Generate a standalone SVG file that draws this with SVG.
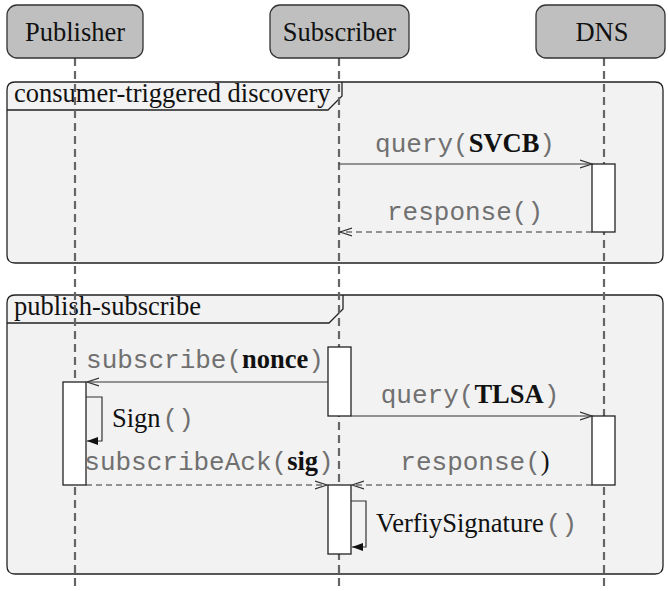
<svg xmlns="http://www.w3.org/2000/svg" width="668" height="591" viewBox="0 0 668 591">
<style>
.part{fill:#bfbfbf;stroke:#333;stroke-width:1.3}
.name{font-family:"Liberation Serif",serif;font-size:26.5px;fill:#111;text-anchor:middle}
.frame{fill:#f2f2f2;stroke:#222;stroke-width:1.3}
.tab{fill:none;stroke:#222;stroke-width:1.3}
.flabel{font-family:"Liberation Serif",serif;font-size:26.5px;fill:#111}
.life{stroke:#666;stroke-width:2.2;stroke-dasharray:8,5;fill:none}
.act{fill:#fff;stroke:#222;stroke-width:1.3}
.msg{stroke:#333;stroke-width:1.2;fill:none}
.ret{stroke:#333;stroke-width:1.2;fill:none;stroke-dasharray:6,4}
.self{stroke:#333;stroke-width:1.2;fill:none}
.mono{font-family:"Liberation Mono",monospace;font-size:26px;fill:#707070}
.bold{font-family:"Liberation Serif",serif;font-weight:bold;font-size:26.5px;fill:#111}
.ser{font-family:"Liberation Serif",serif;font-size:26.5px;fill:#111}
.lbl{text-anchor:middle}
</style>
<defs>
<marker id="open" markerWidth="14" markerHeight="10" refX="12" refY="5" orient="auto" markerUnits="userSpaceOnUse">
<path d="M0,1 L12,5 L0,9" fill="none" stroke="#333" stroke-width="1.2"/>
</marker>
<marker id="fill" markerWidth="12" markerHeight="10" refX="11" refY="5" orient="auto" markerUnits="userSpaceOnUse">
<path d="M0,1 L11,5 L0,9 Z" fill="#111"/>
</marker>
</defs>

<g id="frame-discovery">
<path class="frame" d="M15,82 H655 Q663,82 663,90 V255 Q663,263 655,263 H15 Q7,263 7,255 V90 Q7,82 15,82 Z"/>
<path class="tab" d="M7,110 H328 L342,96 V82"/>
<text class="flabel" x="14" y="102">consumer-triggered discovery</text>
</g>
<g id="frame-pubsub">
<path class="frame" d="M15,295 H655 Q663,295 663,303 V566 Q663,574 655,574 H15 Q7,574 7,566 V303 Q7,295 15,295 Z"/>
<path class="tab" d="M7,323 H329 L343,309 V295"/>
<text class="flabel" x="14" y="315">publish-subscribe</text>
</g>

<g id="lifelines">
<line class="life" x1="75" y1="58" x2="75" y2="591"/>
<line class="life" x1="339" y1="58" x2="339" y2="591"/>
<line class="life" x1="604" y1="58" x2="604" y2="591"/>
</g>

<g id="publisher">
<rect class="part" x="7" y="5" width="136" height="53" rx="10"/>
<text class="name" x="75" y="41">Publisher</text>
</g>
<g id="subscriber">
<rect class="part" x="270" y="5" width="139" height="53" rx="10"/>
<text class="name" x="339.5" y="41">Subscriber</text>
</g>
<g id="dns">
<rect class="part" x="536" y="5" width="129" height="53" rx="10"/>
<text class="name" x="602" y="41">DNS</text>
</g>

<g id="activations">
<rect id="act-dns-1" class="act" x="592" y="164" width="23" height="68"/>
<rect id="act-sub-1" class="act" x="328" y="347" width="23" height="69"/>
<rect id="act-pub-1" class="act" x="63" y="382" width="23" height="103"/>
<rect id="act-dns-2" class="act" x="592" y="416" width="23" height="69"/>
<rect id="act-sub-2" class="act" x="328" y="485" width="23" height="69"/>
</g>

<g id="connectors">
<line class="msg" x1="339" y1="164" x2="592" y2="164" marker-end="url(#open)"/>
<line class="ret" x1="592" y1="232" x2="340" y2="232" marker-end="url(#open)"/>
<line class="msg" x1="328" y1="382" x2="87" y2="382" marker-end="url(#open)"/>
<polyline class="self" points="86,397 102,397 102,441 87,441" marker-end="url(#fill)"/>
<line class="msg" x1="351" y1="416" x2="592" y2="416" marker-end="url(#open)"/>
<line class="ret" x1="592" y1="485" x2="352" y2="485" marker-end="url(#open)"/>
<line class="ret" x1="86" y1="485" x2="327" y2="485" marker-end="url(#open)"/>
<polyline class="self" points="351,501 366,501 366,547 352,547" marker-end="url(#fill)"/>
</g>

<g id="labels">
<text class="lbl" x="465" y="152"><tspan class="mono">query(</tspan><tspan class="bold">SVCB</tspan><tspan class="mono">)</tspan></text>
<text class="lbl mono" x="465" y="220">response()</text>
<text class="lbl" x="205" y="368"><tspan class="mono">subscribe(</tspan><tspan class="bold">nonce</tspan><tspan class="mono">)</tspan></text>
<text x="112" y="427"><tspan class="ser">Sign</tspan><tspan class="mono" font-size="20px" dx="2">()</tspan></text>
<text class="lbl" x="470" y="403"><tspan class="mono">query(</tspan><tspan class="bold">TLSA</tspan><tspan class="mono">)</tspan></text>
<text class="lbl" x="209" y="470"><tspan class="mono">subscribeAck(</tspan><tspan class="bold">sig</tspan><tspan class="mono">)</tspan></text>
<text class="lbl" x="475" y="470"><tspan class="mono">response(</tspan><tspan class="ser">)</tspan></text>
<text x="376" y="532"><tspan class="ser">VerfiySignature</tspan><tspan class="mono" font-size="20px" dx="2">()</tspan></text>
</g>
</svg>
